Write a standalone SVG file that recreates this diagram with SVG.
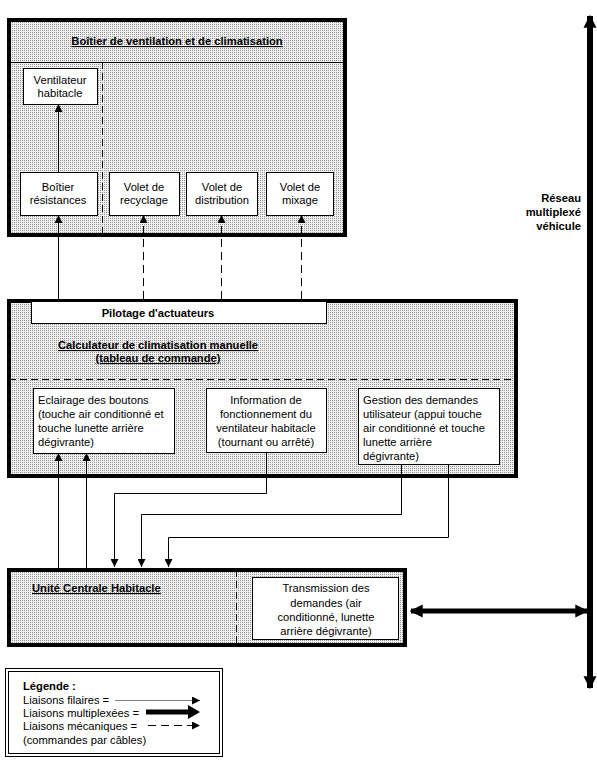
<svg xmlns="http://www.w3.org/2000/svg" width="597" height="761" viewBox="0 0 597 761">
<style>
text{font-family:"Liberation Sans",Arial,sans-serif;font-size:11.2px;fill:#000}
.b{font-weight:bold}
.u{text-decoration:underline}
.m{text-anchor:middle}
.r{text-anchor:end}
.big{fill:url(#dots);stroke:#000;stroke-width:4}
.box{fill:#fff;stroke:#000;stroke-width:1}
.thin{fill:none;stroke:#000;stroke-width:1}
.dash{fill:none;stroke:#000;stroke-width:1;stroke-dasharray:8 5}
.sep{fill:none;stroke:#000;stroke-width:1;stroke-dasharray:7 4}
</style>
<defs>
<pattern id="dots" width="2" height="2" patternUnits="userSpaceOnUse">
<rect width="2" height="2" fill="#f0f0f0"/>
<rect width="1" height="1" fill="#939393"/>
</pattern>
<marker id="a" viewBox="0 0 10 10" refX="10" refY="5" markerUnits="userSpaceOnUse" markerWidth="8" markerHeight="8" orient="auto">
<path d="M0,0 L10,5 L0,10 z" fill="#000"/>
</marker>
<marker id="A" viewBox="0 0 10 10" refX="9" refY="5" markerUnits="userSpaceOnUse" markerWidth="13" markerHeight="15" orient="auto-start-reverse">
<path d="M0,0 L10,5 L0,10 z" fill="#000"/>
</marker>
</defs>

<g id="boitier">
<rect class="big" x="9" y="20" width="336" height="215"/>
<line class="thin" x1="9" y1="62.5" x2="345" y2="62.5"/>
<line class="sep" x1="102.5" y1="62" x2="102.5" y2="235"/>
<text class="b u m" x="177" y="45">Boîtier de ventilation et de climatisation</text>
</g>
<g id="ventilateur">
<rect class="box" x="23.5" y="68.5" width="74" height="36"/>
<text class="m" x="60" y="84">Ventilateur</text>
<text class="m" x="60" y="97">habitacle</text>
</g>
<g id="resistances">
<rect class="box" x="20.5" y="172.5" width="77" height="43"/>
<text class="m" x="58" y="191">Boîtier</text>
<text class="m" x="58" y="204">résistances</text>
</g>
<g id="recyclage">
<rect class="box" x="109.5" y="172.5" width="70" height="43"/>
<text class="m" x="144" y="191">Volet de</text>
<text class="m" x="144" y="204">recyclage</text>
</g>
<g id="distribution">
<rect class="box" x="186.5" y="172.5" width="71" height="43"/>
<text class="m" x="222" y="191">Volet de</text>
<text class="m" x="222" y="204">distribution</text>
</g>
<g id="mixage">
<rect class="box" x="266.5" y="172.5" width="67" height="43"/>
<text class="m" x="300" y="191">Volet de</text>
<text class="m" x="300" y="204">mixage</text>
</g>

<g id="calculateur">
<rect class="big" x="9" y="301" width="507" height="175"/>
<line class="sep" x1="9" y1="379.5" x2="516" y2="379.5"/>
<text class="b u m" x="158" y="349">Calculateur de climatisation manuelle</text>
<text class="b u m" x="158" y="362">(tableau de commande)</text>
</g>
<g id="pilotage">
<rect class="box" x="31.5" y="301.5" width="295" height="22"/>
<text class="b m" x="158" y="317">Pilotage d'actuateurs</text>
</g>
<g id="eclairage">
<rect class="box" x="33.5" y="388.5" width="141" height="65"/>
<text x="38" y="404">Eclairage des boutons</text>
<text x="38" y="418">(touche air conditionné et</text>
<text x="38" y="432">touche lunette arrière</text>
<text x="38" y="446">dégivrante)</text>
</g>
<g id="information">
<rect class="box" x="206.5" y="388.5" width="120" height="64"/>
<text class="m" x="266" y="404">Information de</text>
<text class="m" x="266" y="418">fonctionnement du</text>
<text class="m" x="266" y="432">ventilateur habitacle</text>
<text class="m" x="266" y="446">(tournant ou arrêté)</text>
</g>
<g id="gestion">
<rect class="box" x="358.5" y="388.5" width="141" height="76"/>
<text x="363" y="404">Gestion des demandes</text>
<text x="363" y="418">utilisateur (appui touche</text>
<text x="363" y="432">air conditionné et touche</text>
<text x="363" y="446">lunette arrière</text>
<text x="363" y="460">dégivrante)</text>
</g>

<g id="uch">
<rect class="big" x="9" y="570" width="396" height="75"/>
<line class="sep" x1="236.5" y1="570" x2="236.5" y2="645"/>
<text class="b u" x="32" y="592">Unité Centrale Habitacle</text>
</g>
<g id="transmission">
<rect class="box" x="252.5" y="577.5" width="146" height="62"/>
<text class="m" x="326" y="592">Transmission des</text>
<text class="m" x="326" y="607">demandes (air</text>
<text class="m" x="326" y="621">conditionné, lunette</text>
<text class="m" x="326" y="635">arrière dégivrante)</text>
</g>

<g id="reseau">
<text class="b r" x="581" y="202">Réseau</text>
<text class="b r" x="581" y="216">multiplexé</text>
<text class="b r" x="581" y="230">véhicule</text>
</g>

<g id="connectors">
<line class="thin" x1="58.5" y1="172" x2="58.5" y2="104" marker-end="url(#a)"/>
<line class="thin" x1="58.5" y1="299" x2="58.5" y2="215" marker-end="url(#a)"/>
<line class="dash" x1="143.5" y1="299" x2="143.5" y2="215" marker-end="url(#a)"/>
<line class="dash" x1="221.5" y1="299" x2="221.5" y2="215" marker-end="url(#a)"/>
<line class="dash" x1="301.5" y1="299" x2="301.5" y2="215" marker-end="url(#a)"/>
<line class="thin" x1="58.5" y1="568" x2="58.5" y2="453" marker-end="url(#a)"/>
<line class="thin" x1="86.5" y1="568" x2="86.5" y2="453" marker-end="url(#a)"/>
<polyline class="thin" points="266.5,452 266.5,493.5 114.5,493.5 114.5,567" marker-end="url(#a)"/>
<polyline class="thin" points="401.5,464 401.5,514.5 141.5,514.5 141.5,567" marker-end="url(#a)"/>
<polyline class="thin" points="448.5,464 448.5,537.5 168.5,537.5 168.5,567" marker-end="url(#a)"/>
<line x1="590" y1="688" x2="590" y2="16" stroke="#000" stroke-width="6" marker-start="url(#A)" marker-end="url(#A)"/>
<line x1="411" y1="611" x2="587" y2="611" stroke="#000" stroke-width="5" marker-start="url(#A)" marker-end="url(#A)"/>
</g>

<g id="legende">
<rect x="5.5" y="668.5" width="217" height="88" fill="#fff" stroke="#000" stroke-width="1"/>
<rect x="8.5" y="671.5" width="211" height="82" fill="none" stroke="#000" stroke-width="1"/>
<text class="b" x="23" y="690">Légende :</text>
<text x="23" y="704">Liaisons filaires =</text>
<text x="23" y="717">Liaisons multiplexées =</text>
<text x="23" y="730">Liaisons mécaniques =</text>
<text x="23" y="744">(commandes par câbles)</text>
<line x1="115" y1="700.5" x2="200" y2="700.5" stroke="#808080" stroke-width="1.2" marker-end="url(#a)"/>
<line x1="146" y1="712" x2="190" y2="712" stroke="#000" stroke-width="5"/>
<path d="M188,705 L200,712 L188,719 z" fill="#000"/>
<line class="dash" x1="148" y1="725.5" x2="200" y2="725.5" marker-end="url(#a)"/>
</g>
</svg>
